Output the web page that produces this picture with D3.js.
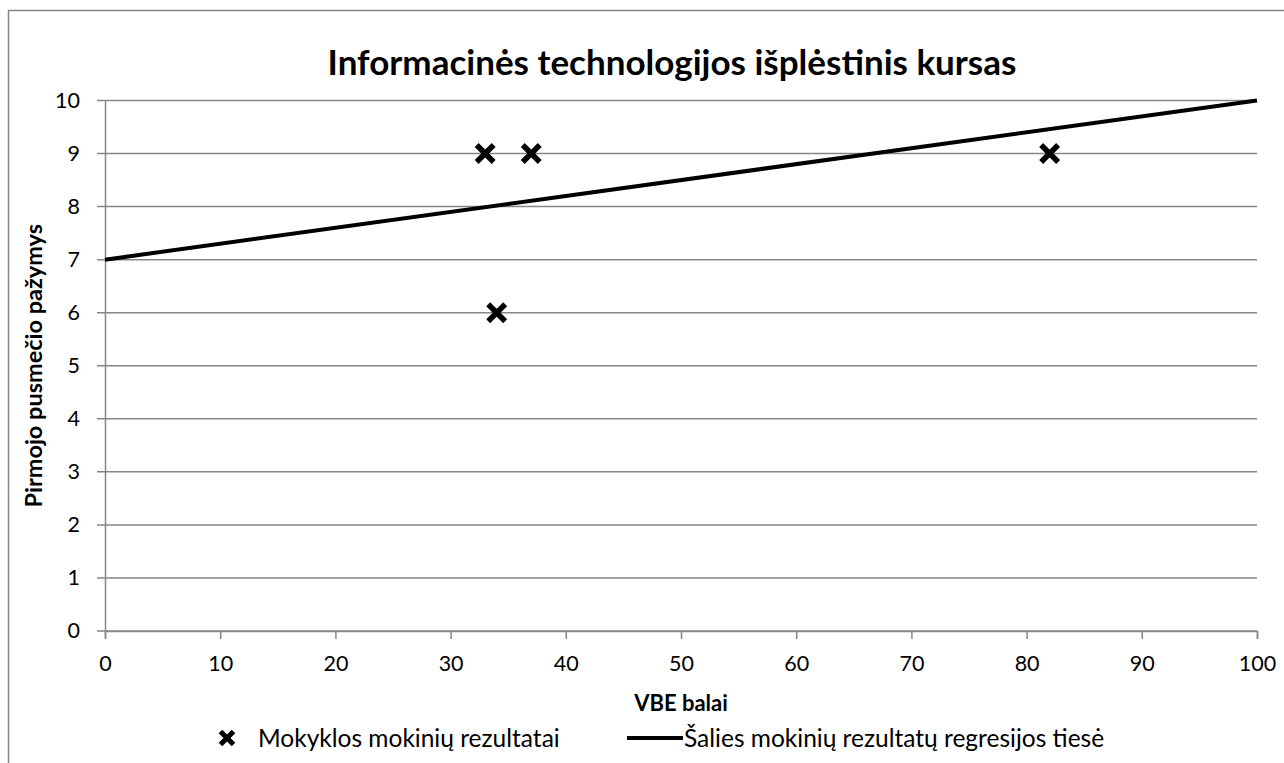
<!DOCTYPE html>
<html>
<head>
<meta charset="utf-8">
<script src="https://cdn.jsdelivr.net/npm/d3@7"></script>
<style>
  body { margin: 0; background: #fff; }
  svg { display: block; font-family: Lato, "Open Sans", sans-serif; }
</style>
</head>
<body>
<main></main>
<script>
const chartTitle = "Informacinės technologijos išplėstinis kursas";
const xTitle = "VBE balai";
const yTitle = "Pirmojo pusmečio pažymys";

// school students: VBE score vs first-semester grade
const schoolScores = [33, 37, 34, 82];
const schoolGrades = [9, 9, 6, 9];

// national regression line endpoints
const lineScores = [0, 100];
const lineGrades = [7, 10];

const xTicks = [0, 10, 20, 30, 40, 50, 60, 70, 80, 90, 100];
const yTicks = [0, 1, 2, 3, 4, 5, 6, 7, 8, 9, 10];

const legendLabels = ["Mokyklos mokinių rezultatai", "Šalies mokinių rezultatų regresijos tiesė"];

let drawChart = (width = 1284, height = 763) => {
	const margin = ({top: 100.5, right: 27, bottom: 132, left: 105});
	const grid = "#868686";

	let svg = d3.select("main")
		.append("svg")
		.attr("width", width)
		.attr("height", height);

	// chart frame (runs off the right and bottom of the picture)
	svg.append("rect")
		.attr("x", 8.5).attr("y", 10.5)
		.attr("width", width + 20).attr("height", height + 20)
		.attr("fill", "none")
		.attr("stroke", grid)
		.attr("stroke-width", 1.5);

	let x = d3.scaleLinear()
		.domain([0, 100])
		.range([margin.left, width - margin.right]);

	let y = d3.scaleLinear()
		.domain([0, 10])
		.range([631, margin.top]);

	// horizontal gridlines
	svg.append("g")
		.selectAll("line")
		.data(yTicks)
		.join("line")
			.attr("x1", x(0) - 8)
			.attr("x2", x(100))
			.attr("y1", d => y(d))
			.attr("y2", d => y(d))
			.attr("stroke", grid)
			.attr("stroke-width", 1.5);

	let xAxis = g => { g
		.attr("transform", `translate(0,${y(0)})`)
		.call(d3.axisBottom(x).tickValues(xTicks).tickSize(8).tickPadding(17))
		.call(g => g.select(".domain").attr("stroke", grid).attr("stroke-width", 1.5))
		.call(g => g.selectAll(".tick line").attr("stroke", grid).attr("stroke-width", 1.5))
		.call(g => g.selectAll(".tick text")
			.attr("font-size", 21.5)
			.attr("font-family", "Lato")
			.attr("fill", "#000"))
	};

	let yAxis = g => { g
		.attr("transform", `translate(${x(0)},0)`)
		.call(d3.axisLeft(y).tickValues(yTicks).tickSize(0).tickPadding(25))
		.call(g => g.select(".domain").attr("stroke", grid).attr("stroke-width", 1.5))
		.call(g => g.selectAll(".tick text")
			.attr("font-size", 21.5)
			.attr("font-family", "Lato")
			.attr("fill", "#000"))
	};

	svg.append("g").call(xAxis);
	svg.append("g").call(yAxis);

	// regression line
	let line = d3.line()
		.x(d => x(d[0]))
		.y(d => y(d[1]));

	svg.append("path")
		.datum(d3.zip(lineScores, lineGrades))
		.attr("d", line)
		.attr("fill", "none")
		.attr("stroke", "#000")
		.attr("stroke-width", 4);

	// x markers
	let cross = (cx, cy, r) => `M${cx - r},${cy - r}L${cx + r},${cy + r}M${cx - r},${cy + r}L${cx + r},${cy - r}`;

	svg.append("g")
		.selectAll("path")
		.data(d3.zip(schoolScores, schoolGrades))
		.join("path")
			.attr("d", d => cross(x(d[0]), y(d[1]), 8.5))
			.attr("stroke", "#000")
			.attr("stroke-width", 5.5);

	// titles
	svg.append("text")
		.attr("x", 672)
		.attr("y", 75)
		.attr("text-anchor", "middle")
		.attr("font-size", 35)
		.attr("font-weight", "bold")
		.text(chartTitle);

	svg.append("text")
		.attr("x", x(50))
		.attr("y", 711)
		.attr("text-anchor", "middle")
		.attr("font-size", 22)
		.attr("font-weight", "bold")
		.text(xTitle);

	svg.append("text")
		.attr("transform", `translate(42,${(y(0) + y(10)) / 2}) rotate(-90)`)
		.attr("text-anchor", "middle")
		.attr("font-size", 23.5)
		.attr("font-weight", "bold")
		.text(yTitle);

	// legend
	const ly = 738;
	let legend = svg.append("g").attr("font-size", 24.5);

	legend.append("path")
		.attr("d", cross(227, ly, 6.5))
		.attr("stroke", "#000")
		.attr("stroke-width", 5);

	legend.append("text")
		.attr("x", 258)
		.attr("y", ly)
		.attr("dy", "0.35em")
		.text(legendLabels[0]);

	legend.append("line")
		.attr("x1", 627).attr("x2", 683)
		.attr("y1", ly).attr("y2", ly)
		.attr("stroke", "#000")
		.attr("stroke-width", 4);

	legend.append("text")
		.attr("x", 684)
		.attr("y", ly)
		.attr("dy", "0.35em")
		.text(legendLabels[1]);
};

drawChart();
</script>
</body>
</html>
